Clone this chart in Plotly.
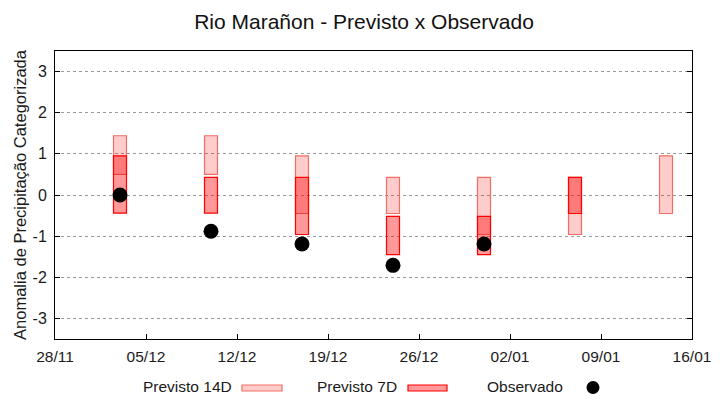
import plotly.graph_objects as go

# ---- data ----
dates = ["2023-12-03", "2023-12-10", "2023-12-17", "2023-12-24", "2023-12-31", "2024-01-07", "2024-01-14"]
p14_low = [0.50, 0.50, -0.45, -0.45, -0.96, -0.96, -0.45]
p14_high = [1.44, 1.44, 0.95, 0.43, 0.43, 0.43, 0.95]
p7_low = [-0.44, -0.44, -0.96, -1.45, -1.45, -0.45, None]
p7_high = [0.95, 0.43, 0.43, -0.52, -0.52, 0.43, None]
obs_dates = ["2023-12-03", "2023-12-10", "2023-12-17", "2023-12-24", "2023-12-31"]
obs_vals = [0.0, -0.88, -1.19, -1.71, -1.19]
y_ticks = [-3, -2, -1, 0, 1, 2, 3]

DAY_MS = 86400000
OFF = 8  # page body margin
W, H = 720 - OFF, 400 - OFF
L, T = 55 - OFF, 51 - OFF
R = W - (692 - OFF)
B = H - (339 - OFF)
PW, PH = W - L - R, H - T - B

def px(xp):
    return (xp - OFF - L) / PW

def py(yp):
    return (H - B - (yp - OFF)) / PH

FAM = "Liberation Sans, Arial, sans-serif"
FS = 15.5

fig = go.Figure()

d14 = [(d, lo, hi) for d, lo, hi in zip(dates, p14_low, p14_high) if lo is not None]
fig.add_trace(go.Bar(
    x=[d for d, _, _ in d14], base=[lo for _, lo, _ in d14], y=[hi - lo for _, lo, hi in d14],
    width=DAY_MS, marker=dict(color="rgba(255,0,0,0.2)", line=dict(color="rgba(240,110,100,1)", width=1.2)),
    showlegend=False, name="Previsto 14D"))

d7 = [(d, lo, hi) for d, lo, hi in zip(dates, p7_low, p7_high) if lo is not None]
fig.add_trace(go.Bar(
    x=[d for d, _, _ in d7], base=[lo for _, lo, _ in d7], y=[hi - lo for _, lo, hi in d7],
    width=DAY_MS, marker=dict(color="rgba(255,0,0,0.4)", line=dict(color="#ff0000", width=1.2)),
    showlegend=False, name="Previsto 7D"))

fig.add_trace(go.Scatter(
    x=obs_dates, y=obs_vals, mode="markers",
    marker=dict(color="black", size=15), showlegend=False, name="Observado"))

# custom legend
font = dict(family=FAM, size=FS, color="#1a1a1a")
ly = py(386)
ann = [
    dict(text="Previsto 14D", x=px(234), y=ly, xanchor="right"),
    dict(text="Previsto 7D", x=px(399), y=ly, xanchor="right"),
    dict(text="Observado", x=px(565), y=ly, xanchor="right"),
]
annotations = [dict(xref="paper", yref="paper", yanchor="middle", showarrow=False, font=font, **a) for a in ann]

shapes = [
    dict(type="rect", xref="paper", yref="paper", x0=px(242), x1=px(282), y0=py(391), y1=py(385),
         fillcolor="rgba(255,0,0,0.2)", line=dict(color="rgba(240,110,100,1)", width=1.2)),
    dict(type="rect", xref="paper", yref="paper", x0=px(408), x1=px(447), y0=py(391), y1=py(385),
         fillcolor="rgba(255,0,0,0.4)", line=dict(color="#ff0000", width=1.2)),
    dict(type="circle", xref="paper", yref="paper", x0=px(586.5), x1=px(599.5), y0=py(394), y1=py(381),
         fillcolor="black", line=dict(color="black", width=0)),
]

fig.update_layout(
    width=W, height=H,
    margin=dict(l=L, r=R, t=T, b=B, autoexpand=False),
    plot_bgcolor="white", paper_bgcolor="white",
    barmode="overlay",
    title=dict(text="Rio Marañon - Previsto x Observado", x=0.5, xanchor="center",
               y=1 - (21.5 - OFF) / H, yanchor="middle",
               font=dict(family=FAM, size=21, color="#111")),
    font=font,
    annotations=annotations,
    shapes=shapes,
)
fig.update_xaxes(
    type="date", range=["2023-11-28", "2024-01-16"], tick0="2023-11-28", dtick=7 * DAY_MS,
    tickformat="%d/%m", showgrid=False, zeroline=False,
    showline=True, linecolor="black", linewidth=1, mirror=True,
    ticks="inside", ticklen=5, tickcolor="black", ticklabelstandoff=3,
    tickfont=dict(family=FAM, size=FS, color="#1a1a1a"), automargin=False,
)
fig.update_yaxes(
    range=[-3.5, 3.5], tickvals=y_ticks, ticktext=[str(v) for v in y_ticks],
    showgrid=True, gridcolor="#999999", griddash="dot", gridwidth=1, zeroline=False,
    showline=True, linecolor="black", linewidth=1, mirror="ticks",
    ticks="inside", ticklen=5, tickcolor="black", ticklabelstandoff=4,
    title=dict(text="Anomalia de Precipitação Categorizada", standoff=1,
               font=dict(family=FAM, size=16.5, color="#1a1a1a")),
    tickfont=dict(family=FAM, size=16, color="#1a1a1a"), automargin=False,
)

fig.write_html("out.html")
